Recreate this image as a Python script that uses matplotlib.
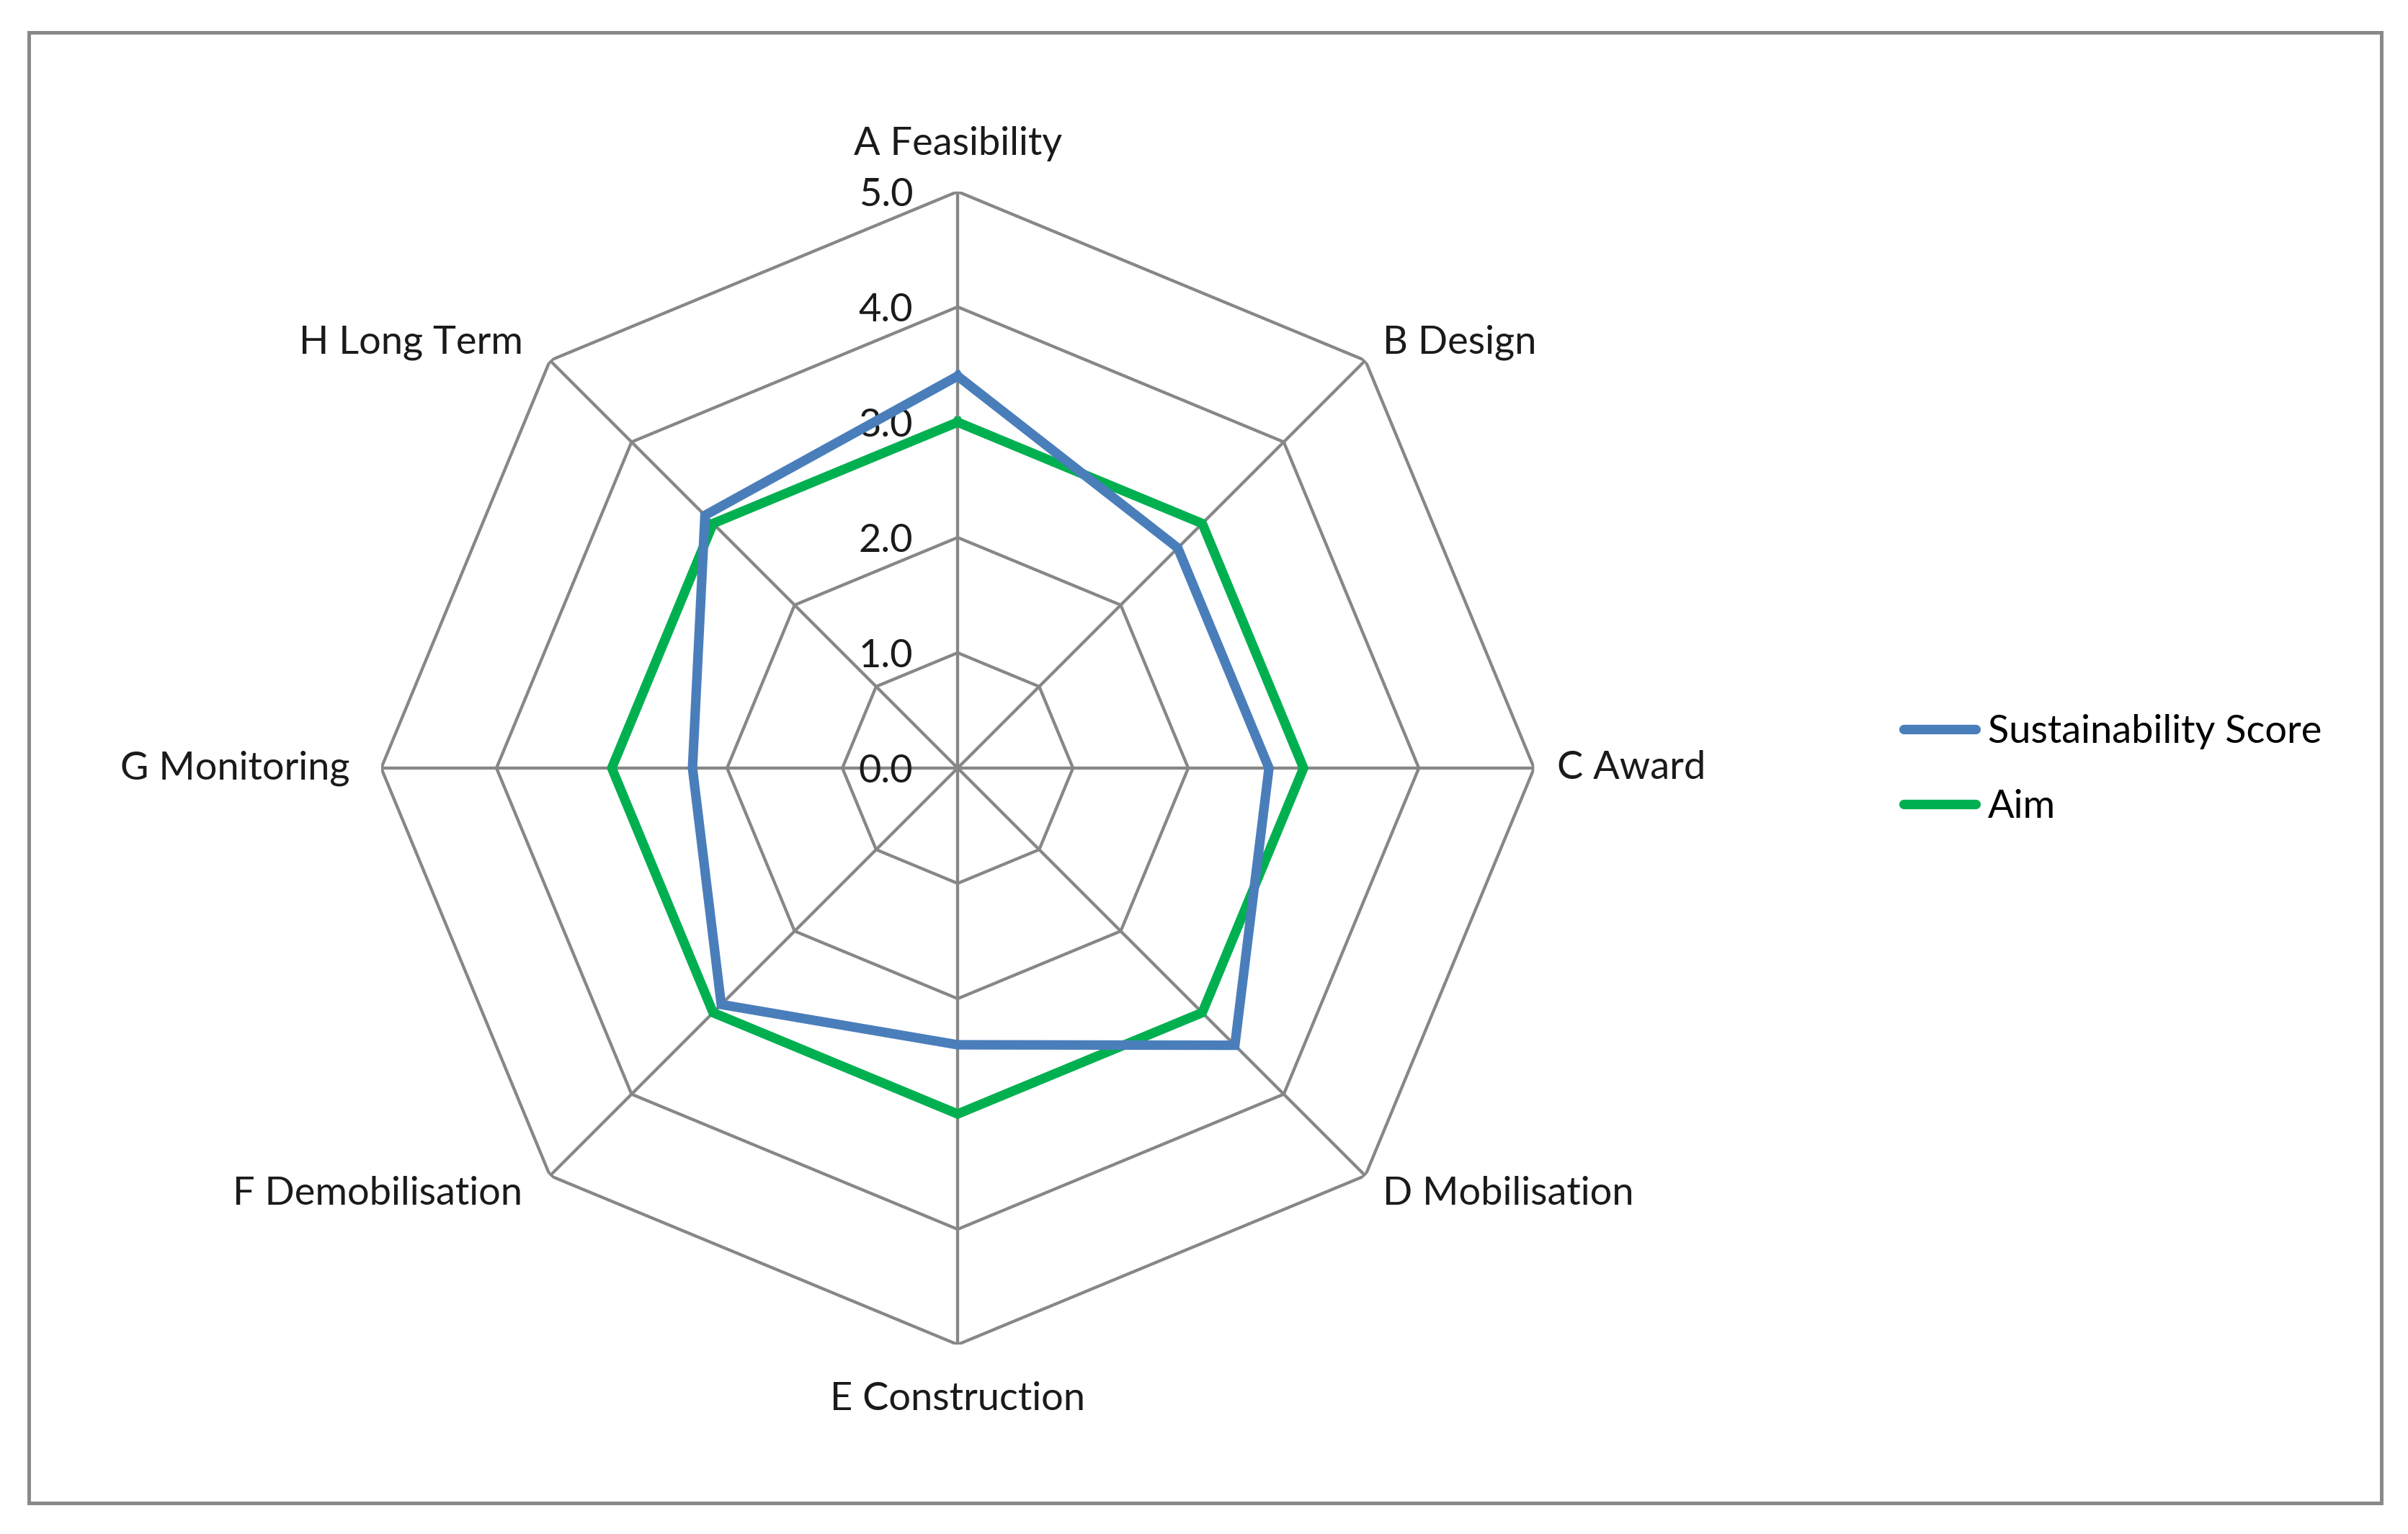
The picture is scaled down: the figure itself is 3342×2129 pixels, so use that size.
import numpy as np
import matplotlib.pyplot as plt
from matplotlib.patches import Rectangle
from matplotlib.lines import Line2D

plt.rcParams['font.family'] = ['Lato', 'DejaVu Sans']

categories = ['A Feasibility', 'B Design', 'C Award', 'D Mobilisation',
              'E Construction', 'F Demobilisation', 'G Monitoring', 'H Long Term']
sustainability_score = [3.4, 2.7, 2.7, 3.4, 2.4, 2.9, 2.3, 3.1]
aim = [3.0, 3.0, 3.0, 3.0, 3.0, 3.0, 3.0, 3.0]
ticks = [0.0, 1.0, 2.0, 3.0, 4.0, 5.0]

blue = '#4A7EBB'
green = '#00B050'
grid_col = '#878787'
fs = 39

fig = plt.figure(figsize=(33.42, 21.29), dpi=100)
fig.patches.append(Rectangle((0.012, 0.0202), 0.977, 0.9587, transform=fig.transFigure,
                             fill=False, edgecolor='#898989', linewidth=3.6))

ax = fig.add_axes([0.1583, 0.1235, 0.4788, 0.7516], polar=True)
ax.set_theta_offset(np.pi / 2)
ax.set_theta_direction(-1)
ax.axis('off')

angles = np.linspace(0, 2 * np.pi, len(categories), endpoint=False)
closed = np.append(angles, angles[0])

# polygon grid
for t in ticks[1:]:
    ax.plot(closed, [t] * len(closed), color=grid_col, lw=3.1, zorder=1)
for a in angles:
    ax.plot([a, a], [0, ticks[-1]], color=grid_col, lw=3.1, zorder=1)

# series
ax.plot(closed, sustainability_score + sustainability_score[:1], color=blue, lw=9.5,
        solid_joinstyle='miter', zorder=4)
ax.plot(closed, aim + aim[:1], color=green, lw=9.5, solid_joinstyle='miter', zorder=3)
ax.set_ylim(0, ticks[-1])

# value labels
for t in ticks:
    ax.annotate(f'{t:.1f}', xy=(0, t), xytext=(-62, 0), textcoords='offset pixels',
                ha='right', va='center_baseline', fontsize=fs, color='#1a1a1a', zorder=2)

# category labels
for a, lab in zip(angles, categories):
    dx, dy = np.sin(a), np.cos(a)
    if abs(dx) < 0.1:
        ha = 'center'
        va = 'bottom' if dy > 0 else 'top'
        off = (0, 42 if dy > 0 else -51)
    elif abs(dy) < 0.1:
        ha = 'left' if dx > 0 else 'right'
        va = 'center'
        off = (32 if dx > 0 else -44, 0)
    else:
        ha = 'left' if dx > 0 else 'right'
        va = 'center'
        off = (24 if dx > 0 else -38, 25 if dy > 0 else -25)
    ax.annotate(lab, xy=(a, ticks[-1]), xytext=off, textcoords='offset pixels',
                ha=ha, va=va, fontsize=fs, color='#1a1a1a')

handles = [Line2D([], [], color=blue, lw=9.5, solid_capstyle='round'),
           Line2D([], [], color=green, lw=9.5, solid_capstyle='round')]
fig.legend(handles, ['Sustainability Score', 'Aim'], loc='center left',
           bbox_to_anchor=(0.7825, 0.4986), frameon=False, borderpad=0,
           handlelength=1.85, handletextpad=0.3, labelspacing=1.0, fontsize=fs)

fig.savefig('out.png', dpi=100)
